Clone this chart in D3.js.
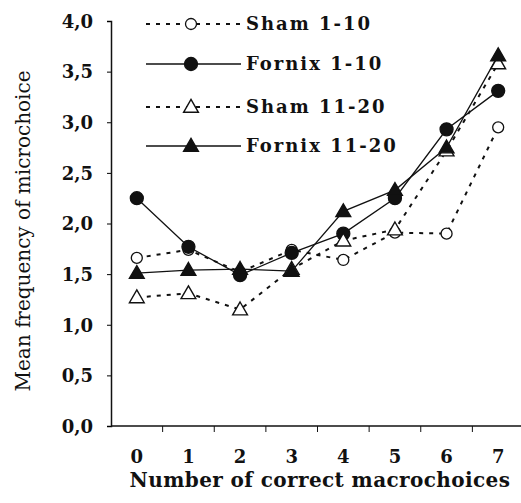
<!DOCTYPE html>
<html>
<head>
    <title>Mean frequency of microchoice</title>
    <script src="https://cdn.jsdelivr.net/npm/d3@7"></script>
    <style>
        body {
            margin: 0;
            background-color: white;
        }
        text {
            font-family: "DejaVu Serif", serif;
            fill: #111;
        }
    </style>
</head>
<body>
    <div id="chart"></div>

    <script>
        const categories = [0, 1, 2, 3, 4, 5, 6, 7];
        const sham110 = [1.66, 1.74, 1.52, 1.74, 1.64, 1.91, 1.90, 2.95];
        const fornix110 = [2.25, 1.77, 1.49, 1.71, 1.90, 2.25, 2.93, 3.31];
        const sham1120 = [1.27, 1.31, 1.15, 1.55, 1.83, 1.94, 2.72, 3.58];
        const fornix1120 = [1.51, 1.54, 1.55, 1.53, 2.12, 2.33, 2.75, 3.66];
        const yTicks = [0, 0.5, 1, 1.5, 2, 2.5, 3, 3.5, 4];

        const series = [
            { name: "Sham 1-10", values: sham110, dashed: true, shape: "circle", filled: false },
            { name: "Fornix 1-10", values: fornix110, dashed: false, shape: "circle", filled: true },
            { name: "Sham 11-20", values: sham1120, dashed: true, shape: "triangle", filled: false },
            { name: "Fornix 11-20", values: fornix1120, dashed: false, shape: "triangle", filled: true }
        ];

        const W = 521, H = 503;
        const margin = { top: 21, right: 0, bottom: 77, left: 111 };
        const height = H - margin.top - margin.bottom;

        const svg = d3.select("#chart")
            .append("svg")
            .attr("width", W)
            .attr("height", H);

        const g = svg.append("g")
            .attr("transform", `translate(${margin.left},${margin.top})`);

        const x = d3.scaleBand()
            .domain(categories)
            .range([0, 413]);

        const y = d3.scaleLinear()
            .domain([0, 4])
            .range([height, 0]);

        const fmt = d => d.toFixed(1).replace(".", ",");

        // Y axis
        const yAxis = g.append("g")
            .call(d3.axisLeft(y).tickValues(yTicks).tickSize(4).tickPadding(14).tickFormat(fmt));
        yAxis.selectAll("text")
            .style("font-size", "18px")
            .style("font-weight", "bold")
            .attr("dy", "0.35em");
        yAxis.select(".domain").attr("stroke", "#111").attr("stroke-width", 1.5);

        // X axis: ticks on band boundaries, labels at band centres
        const xAxis = g.append("g")
            .attr("transform", `translate(0,${height})`);
        xAxis.append("line")
            .attr("x1", 0).attr("x2", 413)
            .attr("stroke", "#111").attr("stroke-width", 1.5);
        xAxis.selectAll(".tk")
            .data(categories.slice(1))
            .enter()
            .append("line")
            .attr("x1", d => x(d)).attr("x2", d => x(d))
            .attr("y1", 0).attr("y2", 6)
            .attr("stroke", "#111");
        xAxis.selectAll(".lbl")
            .data(categories)
            .enter()
            .append("text")
            .attr("x", d => x(d) + x.bandwidth() / 2)
            .attr("y", 37)
            .attr("text-anchor", "middle")
            .style("font-size", "18px")
            .style("font-weight", "bold")
            .text(d => d);

        // Axis titles
        svg.append("text")
            .attr("x", 320)
            .attr("y", 487)
            .attr("text-anchor", "middle")
            .style("font-size", "20px")
            .style("font-weight", "bold")
            .style("letter-spacing", "0.4px")
            .text("Number of correct macrochoices");

        svg.append("text")
            .attr("transform", "translate(30,231) rotate(-90)")
            .attr("text-anchor", "middle")
            .style("font-size", "20px")
            .text("Mean frequency of microchoice");

        const cx = i => x(categories[i]) + x.bandwidth() / 2;

        const line = d3.line()
            .x((d, i) => cx(i))
            .y(d => y(d));

        const triangle = d3.symbol().type(d3.symbolTriangle).size(95);

        function drawMarker(sel, s, px, py) {
            if (s.shape === "circle") {
                sel.append("circle")
                    .attr("cx", px).attr("cy", py)
                    .attr("r", s.filled ? 6.5 : 5.5)
                    .attr("fill", s.filled ? "#111" : "white")
                    .attr("stroke", "#111")
                    .attr("stroke-width", 1.3);
            } else {
                sel.append("path")
                    .attr("d", triangle)
                    .attr("transform", `translate(${px},${py + 1})`)
                    .attr("fill", s.filled ? "#111" : "white")
                    .attr("stroke", "#111")
                    .attr("stroke-width", 1.4);
            }
        }

        // Lines and markers
        series.forEach(s => {
            g.append("path")
                .datum(s.values)
                .attr("d", line)
                .attr("fill", "none")
                .attr("stroke", "#111")
                .attr("stroke-width", s.dashed ? 2 : 1.3)
                .attr("stroke-dasharray", s.dashed ? "4,6" : null);
        });
        series.forEach(s => {
            const mg = g.append("g");
            s.values.forEach((v, i) => drawMarker(mg, s, cx(i), y(v)));
        });

        // Legend
        const legendY = [24, 64, 107, 146];
        const legend = svg.append("g");
        series.forEach((s, i) => {
            const ly = legendY[i];
            legend.append("line")
                .attr("x1", 146).attr("x2", 241)
                .attr("y1", ly).attr("y2", ly)
                .attr("stroke", "#111")
                .attr("stroke-width", s.dashed ? 2 : 1.3)
                .attr("stroke-dasharray", s.dashed ? "4,6" : null);
            drawMarker(legend, s, 191, ly);
            legend.append("text")
                .attr("x", 246)
                .attr("y", ly)
                .attr("dy", "0.35em")
                .style("font-size", "18px")
                .style("font-weight", "bold")
                .style("letter-spacing", "2px")
                .text(s.name);
        });
    </script>
</body>
</html>
